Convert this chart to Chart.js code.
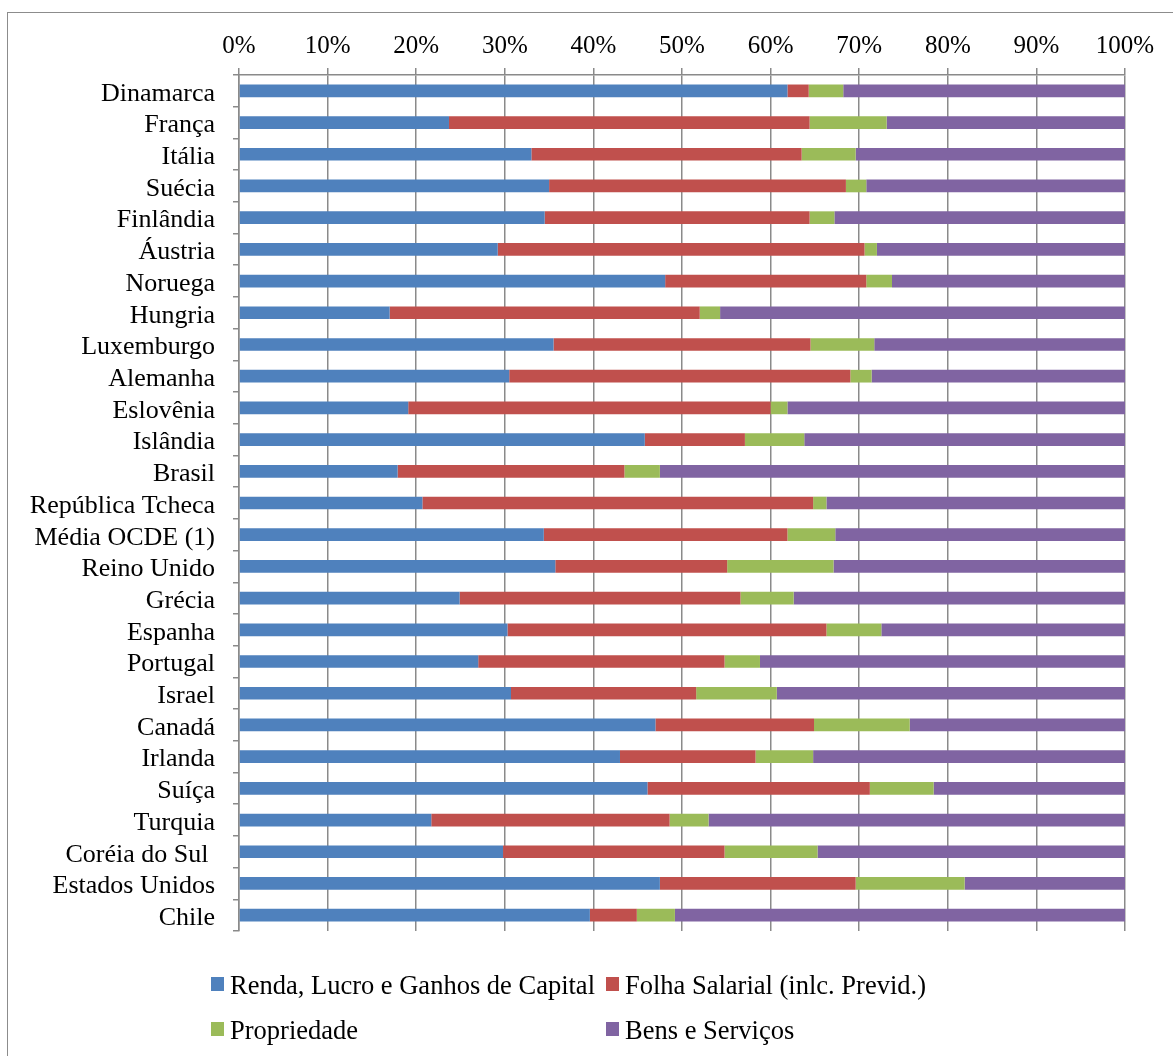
<!DOCTYPE html>
<html lang="pt">
<head>
<meta charset="utf-8">
<title>Composição da carga tributária</title>
<script src="https://cdn.jsdelivr.net/npm/chart.js@4.4.1/dist/chart.umd.min.js"></script>
<style>
  html, body { margin: 0; padding: 0; background: #fff; }
  body { width: 1173px; height: 1056px; position: relative; overflow: hidden;
         font-family: 'Liberation Serif', 'Times New Roman', serif; }
  #frame { position: absolute; left: 7px; top: 12px; width: 1200px; height: 1100px;
           border: 1px solid #8c8c8c; box-sizing: border-box; }
  #wrap { position: absolute; left: 0; top: 0; width: 1173px; height: 1056px; }
  #legend { position: absolute; left: 0; top: 0; width: 1173px; height: 1056px; pointer-events: none; }
  .item { position: absolute; font-size: 26.5px; line-height: 30px; color: #000; white-space: nowrap; }
  .sw { position: absolute; width: 13px; height: 14px; }
</style>
</head>
<body>
<div id="frame"></div>
<div id="wrap"><canvas id="chart" width="1173" height="1056"></canvas></div>
<div id="legend"></div>
<script>
// Países (e média OCDE), de cima para baixo
const countries = [
  'Dinamarca', 'França', 'Itália', 'Suécia', 'Finlândia', 'Áustria', 'Noruega',
  'Hungria', 'Luxemburgo', 'Alemanha', 'Eslovênia', 'Islândia', 'Brasil',
  'República Tcheca', 'Média OCDE (1)', 'Reino Unido', 'Grécia', 'Espanha',
  'Portugal', 'Israel', 'Canadá', 'Irlanda', 'Suíça', 'Turquia', 'Coréia do Sul ',
  'Estados Unidos', 'Chile'
];

const seriesNames = [
  'Renda, Lucro e Ganhos de Capital',
  'Folha Salarial (inlc. Previd.)',
  'Propriedade',
  'Bens e Serviços'
];

// Participação (%) de cada base de incidência na arrecadação total
const renda = [61.9, 23.7, 33.0, 35.0, 34.5, 29.2, 48.1, 17.0, 35.5, 30.5, 19.1, 45.8, 17.9,
               20.7, 34.4, 35.7, 24.9, 30.3, 27.0, 30.7, 47.0, 43.0, 46.1, 21.7, 29.8, 47.5, 39.6];
const folha = [2.4, 40.7, 30.5, 33.5, 29.9, 41.4, 22.7, 35.0, 29.0, 38.5, 40.9, 11.3, 25.6,
               44.1, 27.5, 19.4, 31.7, 36.0, 27.8, 20.9, 17.9, 15.3, 25.1, 26.9, 25.0, 22.1, 5.3];
const propriedade = [3.9, 8.7, 6.1, 2.3, 2.8, 1.4, 2.9, 2.3, 7.2, 2.4, 1.9, 6.7, 4.0,
                     1.5, 5.4, 12.0, 6.0, 6.2, 4.0, 9.1, 10.8, 6.5, 7.2, 4.4, 10.5, 12.3, 4.3];
const bens = [31.8, 26.9, 30.4, 29.2, 32.8, 28.0, 26.3, 45.7, 28.3, 28.6, 38.1, 36.2, 52.5,
              33.7, 32.7, 32.9, 37.4, 27.5, 41.2, 39.3, 24.3, 35.2, 21.6, 47.0, 34.7, 18.1, 50.8];

const tickValues = [0, 10, 20, 30, 40, 50, 60, 70, 80, 90, 100];

const colors = ['#4F81BD', '#C0504D', '#9BBB59', '#8064A2'];
const values = [renda, folha, propriedade, bens];

const FONT = "'Liberation Serif', 'Times New Roman', serif";
Chart.defaults.font.family = FONT;
Chart.defaults.font.size = 25;
Chart.defaults.color = '#000';

const PAD_TOP = 0, PAD_LEFT = 0;

new Chart(document.getElementById('chart'), {
  type: 'bar',
  data: {
    labels: countries,
    datasets: seriesNames.map((name, i) => ({
      label: name,
      data: values[i],
      backgroundColor: colors[i],
      borderWidth: 0,
      barPercentage: 0.4,
      categoryPercentage: 1.0
    }))
  },
  options: {
    indexAxis: 'y',
    responsive: false,
    animation: false,
    devicePixelRatio: 1,
    layout: { padding: { top: PAD_TOP, left: PAD_LEFT, right: 48, bottom: 125 } },
    plugins: { legend: { display: false }, tooltip: { enabled: false } },
    scales: {
      x: {
        position: 'top',
        stacked: true,
        min: 0,
        max: 100,
        afterBuildTicks: (scale) => { scale.ticks = tickValues.map(v => ({ value: v })); },
        ticks: { callback: (v) => v + '%', padding: 7, maxRotation: 0, autoSkip: false },
        grid: { color: '#8a8a8a', lineWidth: 1.5, tickLength: 7, drawTicks: true },
        border: { color: '#8a8a8a', width: 1.5 },
        afterFit: (scale) => { scale.height = 75 - PAD_TOP; }
      },
      y: {
        stacked: true,
        ticks: { padding: 18, autoSkip: false, labelOffset: 3, font: { size: 26 } },
        grid: { drawOnChartArea: false, drawTicks: true, tickLength: 6, color: '#8a8a8a', lineWidth: 1.5 },
        border: { color: '#8a8a8a', width: 1.5 },
        afterFit: (scale) => { scale.width = 239 - PAD_LEFT; }
      }
    }
  }
});

// Legenda em duas colunas abaixo do gráfico
const legend = document.getElementById('legend');
const cols = [211, 606];
const rows = [985, 1030];
seriesNames.forEach((name, i) => {
  const x = cols[i % 2], y = rows[Math.floor(i / 2)];
  const sw = document.createElement('div');
  sw.className = 'sw';
  sw.style.left = x + 'px';
  sw.style.top = (y - 8) + 'px';
  sw.style.background = colors[i];
  legend.appendChild(sw);
  const t = document.createElement('div');
  t.className = 'item';
  t.style.left = (x + 19) + 'px';
  t.style.top = (y - 15) + 'px';
  t.textContent = name;
  legend.appendChild(t);
});
</script>
</body>
</html>
